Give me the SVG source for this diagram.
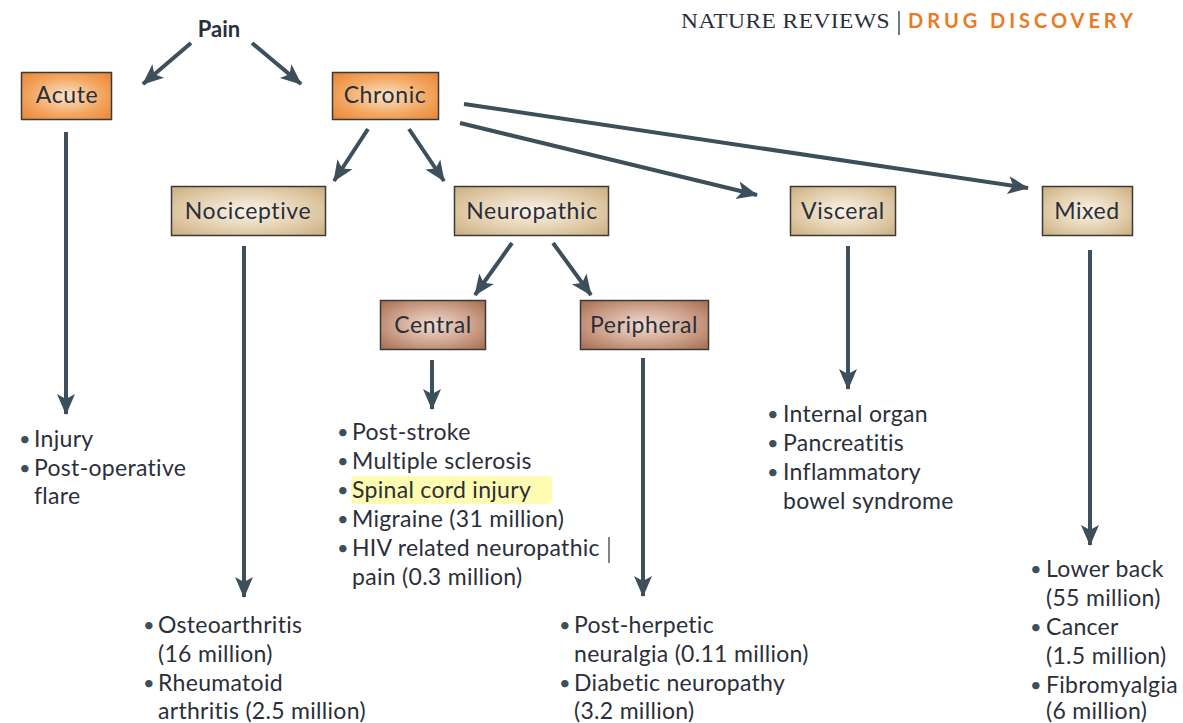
<svg xmlns="http://www.w3.org/2000/svg" width="1183" height="723" viewBox="0 0 1183 723">
<defs>
<radialGradient id="gOrange" cx="50%" cy="50%" r="65%"><stop offset="0" stop-color="#fbe3c8"/><stop offset="0.6" stop-color="#f3a863"/><stop offset="1" stop-color="#ec8a3a"/></radialGradient>
<radialGradient id="gTan" cx="50%" cy="50%" r="65%"><stop offset="0" stop-color="#faf3ea"/><stop offset="0.6" stop-color="#e3cfae"/><stop offset="1" stop-color="#cfb386"/></radialGradient>
<radialGradient id="gBrown" cx="50%" cy="50%" r="65%"><stop offset="0" stop-color="#f1dcd2"/><stop offset="0.6" stop-color="#cda08a"/><stop offset="1" stop-color="#ab7559"/></radialGradient>
<marker id="ah" markerUnits="userSpaceOnUse" markerWidth="22" markerHeight="22" viewBox="0 0 22 22" refX="20" refY="11" orient="auto">
<path d="M0,2 L21,11 L0,20 L5,11 Z" fill="#3d4f5a"/>
</marker>
<style>
.box{stroke:#3a3a3a;stroke-width:1.5}
.o{fill:url(#gOrange)}
.t{fill:url(#gTan)}
.b{fill:url(#gBrown)}
.lbl{font-family:Lato,"Open Sans",sans-serif;font-size:23px;letter-spacing:0.6px;fill:#2b2f3a;text-anchor:middle}
.lst{font-family:Lato,"Open Sans",sans-serif;font-size:23px;letter-spacing:0.3px;fill:#2b2f3a}
.bul{font-family:Lato,"Open Sans",sans-serif;font-size:20px;fill:#3d4f5a}
.con{stroke:#3d4f5a;stroke-width:4;fill:none;marker-end:url(#ah)}
</style>
</defs>
<rect width="1183" height="723" fill="#ffffff"/>
<g id="header">
<text x="681" y="28" font-family="'Liberation Serif',serif" font-size="22" letter-spacing="0.4" fill="#2b2f3a" textLength="209" lengthAdjust="spacingAndGlyphs">NATURE REVIEWS</text>
<line x1="899" y1="11" x2="899" y2="35" stroke="#3d4f5a" stroke-width="1.5"/>
<text x="908" y="28" font-family="Lato,'Open Sans',sans-serif" font-weight="bold" font-size="20" fill="#ea7a26" textLength="225" lengthAdjust="spacing">DRUG DISCOVERY</text>
</g>
<g id="connectors">
<line class="con" x1="191" y1="43" x2="143" y2="84"/>
<line class="con" x1="252" y1="43" x2="301" y2="84"/>
<line class="con" x1="368" y1="129" x2="334" y2="181"/>
<line class="con" x1="409" y1="129" x2="444" y2="181"/>
<line class="con" x1="460" y1="123" x2="757" y2="195"/>
<line class="con" x1="464" y1="104" x2="1028" y2="188"/>
<line class="con" x1="66" y1="132" x2="66" y2="414"/>
<line class="con" x1="244" y1="246" x2="244" y2="597"/>
<line class="con" x1="512" y1="243" x2="475" y2="295"/>
<line class="con" x1="553" y1="243" x2="591" y2="295"/>
<line class="con" x1="432" y1="360" x2="432" y2="409"/>
<line class="con" x1="643" y1="358" x2="643" y2="596"/>
<line class="con" x1="848" y1="246" x2="848" y2="389"/>
<line class="con" x1="1090" y1="250" x2="1090" y2="545"/>
</g>
<g id="pain"><text x="219" y="37" font-family="Lato,'Open Sans',sans-serif" font-weight="bold" font-size="22" fill="#2b2f3a" text-anchor="middle">Pain</text></g>
<g id="acute"><rect class="box o" x="21.5" y="72.5" width="90" height="47"/><text class="lbl" x="67" y="103">Acute</text></g>
<g id="chronic"><rect class="box o" x="332.5" y="72.5" width="106" height="47"/><text class="lbl" x="385" y="103">Chronic</text></g>
<g id="nociceptive"><rect class="box t" x="171.5" y="186.5" width="154" height="49"/><text class="lbl" x="248" y="219">Nociceptive</text></g>
<g id="neuropathic"><rect class="box t" x="454.5" y="186.5" width="154" height="49"/><text class="lbl" x="532" y="219">Neuropathic</text></g>
<g id="visceral"><rect class="box t" x="790.5" y="186.5" width="105" height="49"/><text class="lbl" x="843" y="219">Visceral</text></g>
<g id="mixed"><rect class="box t" x="1042.5" y="186.5" width="90" height="49"/><text class="lbl" x="1087" y="219">Mixed</text></g>
<g id="central"><rect class="box b" x="380.5" y="300.5" width="105" height="49"/><text class="lbl" x="433" y="333">Central</text></g>
<g id="peripheral"><rect class="box b" x="580.5" y="300.5" width="128" height="49"/><text class="lbl" x="644" y="333">Peripheral</text></g>
<g id="acute-list">
<text class="bul" x="19" y="446">•</text><text class="lst" x="34" y="447">Injury</text>
<text class="bul" x="19" y="475">•</text><text class="lst" x="34" y="476">Post-operative</text>
<text class="lst" x="34" y="504">flare</text>
</g>
<g id="nociceptive-list">
<text class="bul" x="143" y="632">•</text><text class="lst" x="158" y="633">Osteoarthritis</text>
<text class="lst" x="158" y="662">(16 million)</text>
<text class="bul" x="143" y="690">•</text><text class="lst" x="158" y="691">Rheumatoid</text>
<text class="lst" x="158" y="719">arthritis (2.5 million)</text>
</g>
<g id="central-list">
<rect x="351" y="476" width="201" height="28" rx="4" fill="#fdfcb0"/>
<text class="bul" x="337" y="439">•</text><text class="lst" x="352" y="440">Post-stroke</text>
<text class="bul" x="337" y="468">•</text><text class="lst" x="352" y="469">Multiple sclerosis</text>
<text class="bul" x="337" y="497">•</text><text class="lst" x="352" y="498" fill="#55602a">Spinal cord injury</text>
<text class="bul" x="337" y="526">•</text><text class="lst" x="352" y="527">Migraine (31 million)</text>
<text class="bul" x="337" y="555">•</text><text class="lst" x="352" y="556">HIV related neuropathic</text>
<text class="lst" x="352" y="585">pain (0.3 million)</text>
<line x1="609" y1="537" x2="609" y2="563" stroke="#2b2f3a" stroke-width="1.2"/>
</g>
<g id="peripheral-list">
<text class="bul" x="559" y="632">•</text><text class="lst" x="574" y="633">Post-herpetic</text>
<text class="lst" x="574" y="662">neuralgia (0.11 million)</text>
<text class="bul" x="559" y="690">•</text><text class="lst" x="574" y="691">Diabetic neuropathy</text>
<text class="lst" x="574" y="719">(3.2 million)</text>
</g>
<g id="visceral-list">
<text class="bul" x="767" y="421">•</text><text class="lst" x="783" y="422">Internal organ</text>
<text class="bul" x="767" y="450">•</text><text class="lst" x="783" y="451">Pancreatitis</text>
<text class="bul" x="767" y="479">•</text><text class="lst" x="783" y="480">Inflammatory</text>
<text class="lst" x="783" y="509">bowel syndrome</text>
</g>
<g id="mixed-list">
<text class="bul" x="1030" y="576">•</text><text class="lst" x="1046" y="577">Lower back</text>
<text class="lst" x="1046" y="606">(55 million)</text>
<text class="bul" x="1030" y="634">•</text><text class="lst" x="1046" y="635">Cancer</text>
<text class="lst" x="1046" y="664">(1.5 million)</text>
<text class="bul" x="1030" y="692">•</text><text class="lst" x="1046" y="693">Fibromyalgia</text>
<text class="lst" x="1046" y="719">(6 million)</text>
</g>
</svg>
